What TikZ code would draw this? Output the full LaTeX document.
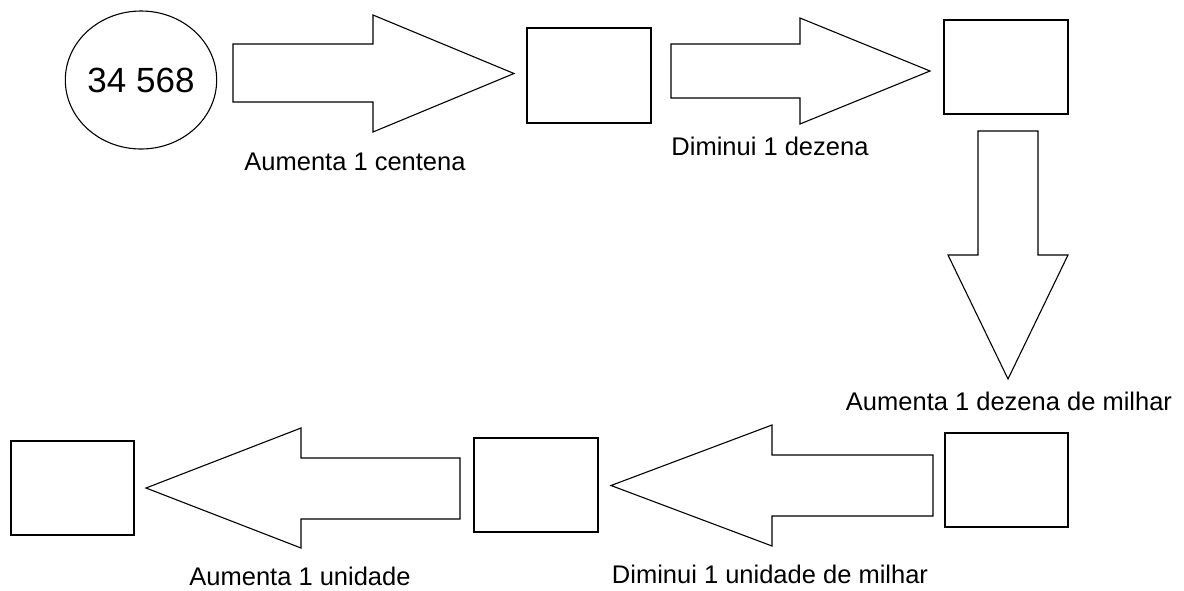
\documentclass[tikz,border=0pt]{standalone}
\usepackage{fontspec}
\setmainfont{Liberation Sans}
\usetikzlibrary{shapes.geometric}
\tikzset{
  box/.style={draw, line width=1.2pt, rectangle, inner sep=0pt},
  bigarrow/.style={draw, line width=1.1pt, line join=miter, fill=white},
  lbl/.style={font=\fontsize{25.5}{30}\selectfont, anchor=base, inner sep=0pt},
  numcirc/.style={draw, line width=1.1pt, ellipse, inner sep=0pt, minimum width=150pt, minimum height=138pt, font=\fontsize{35}{42}\selectfont}
}
\begin{document}
\begin{tikzpicture}[x=1pt,y=-1pt]
\useasboundingbox (0,0) rectangle (1184,590);
% start circle
\node[numcirc] (start) at (141,80) {34 568};
% boxes
\node[box, minimum width=124pt, minimum height=95pt] (b1) at (589,75.5) {};
\node[box, minimum width=124pt, minimum height=94pt] (b2) at (1006,67) {};
\node[box, minimum width=123pt, minimum height=94pt] (b3) at (1006.5,480) {};
\node[box, minimum width=124pt, minimum height=94pt] (b4) at (536,485) {};
\node[box, minimum width=123pt, minimum height=94pt] (b5) at (72.5,488) {};
% block arrows
\draw[bigarrow] (233,44) -- (373,44) -- (373,15) -- (514,73.5) -- (373,132) -- (373,102) -- (233,102) -- cycle;
\draw[bigarrow] (671,44) -- (800,44) -- (800,18) -- (930,71) -- (800,124) -- (800,98) -- (671,98) -- cycle;
\draw[bigarrow] (978,131) -- (1038,131) -- (1038,255) -- (1068,255) -- (1008,379) -- (948,255) -- (978,255) -- cycle;
\draw[bigarrow] (933,455) -- (772,455) -- (772,425) -- (611,485.5) -- (772,546) -- (772,516) -- (933,516) -- cycle;
\draw[bigarrow] (460,458) -- (301,458) -- (301,428) -- (146,488) -- (301,548) -- (301,519) -- (460,519) -- cycle;
% labels
\node[lbl] (l1) at (355,170) {Aumenta 1 centena};
\node[lbl] (l2) at (770,155) {Diminui 1 dezena};
\node[lbl] (l3) at (1009,410) {Aumenta 1 dezena de milhar};
\node[lbl] (l4) at (770,583) {Diminui 1 unidade de milhar};
\node[lbl] (l5) at (300,585) {Aumenta 1 unidade};
\end{tikzpicture}
\end{document}
